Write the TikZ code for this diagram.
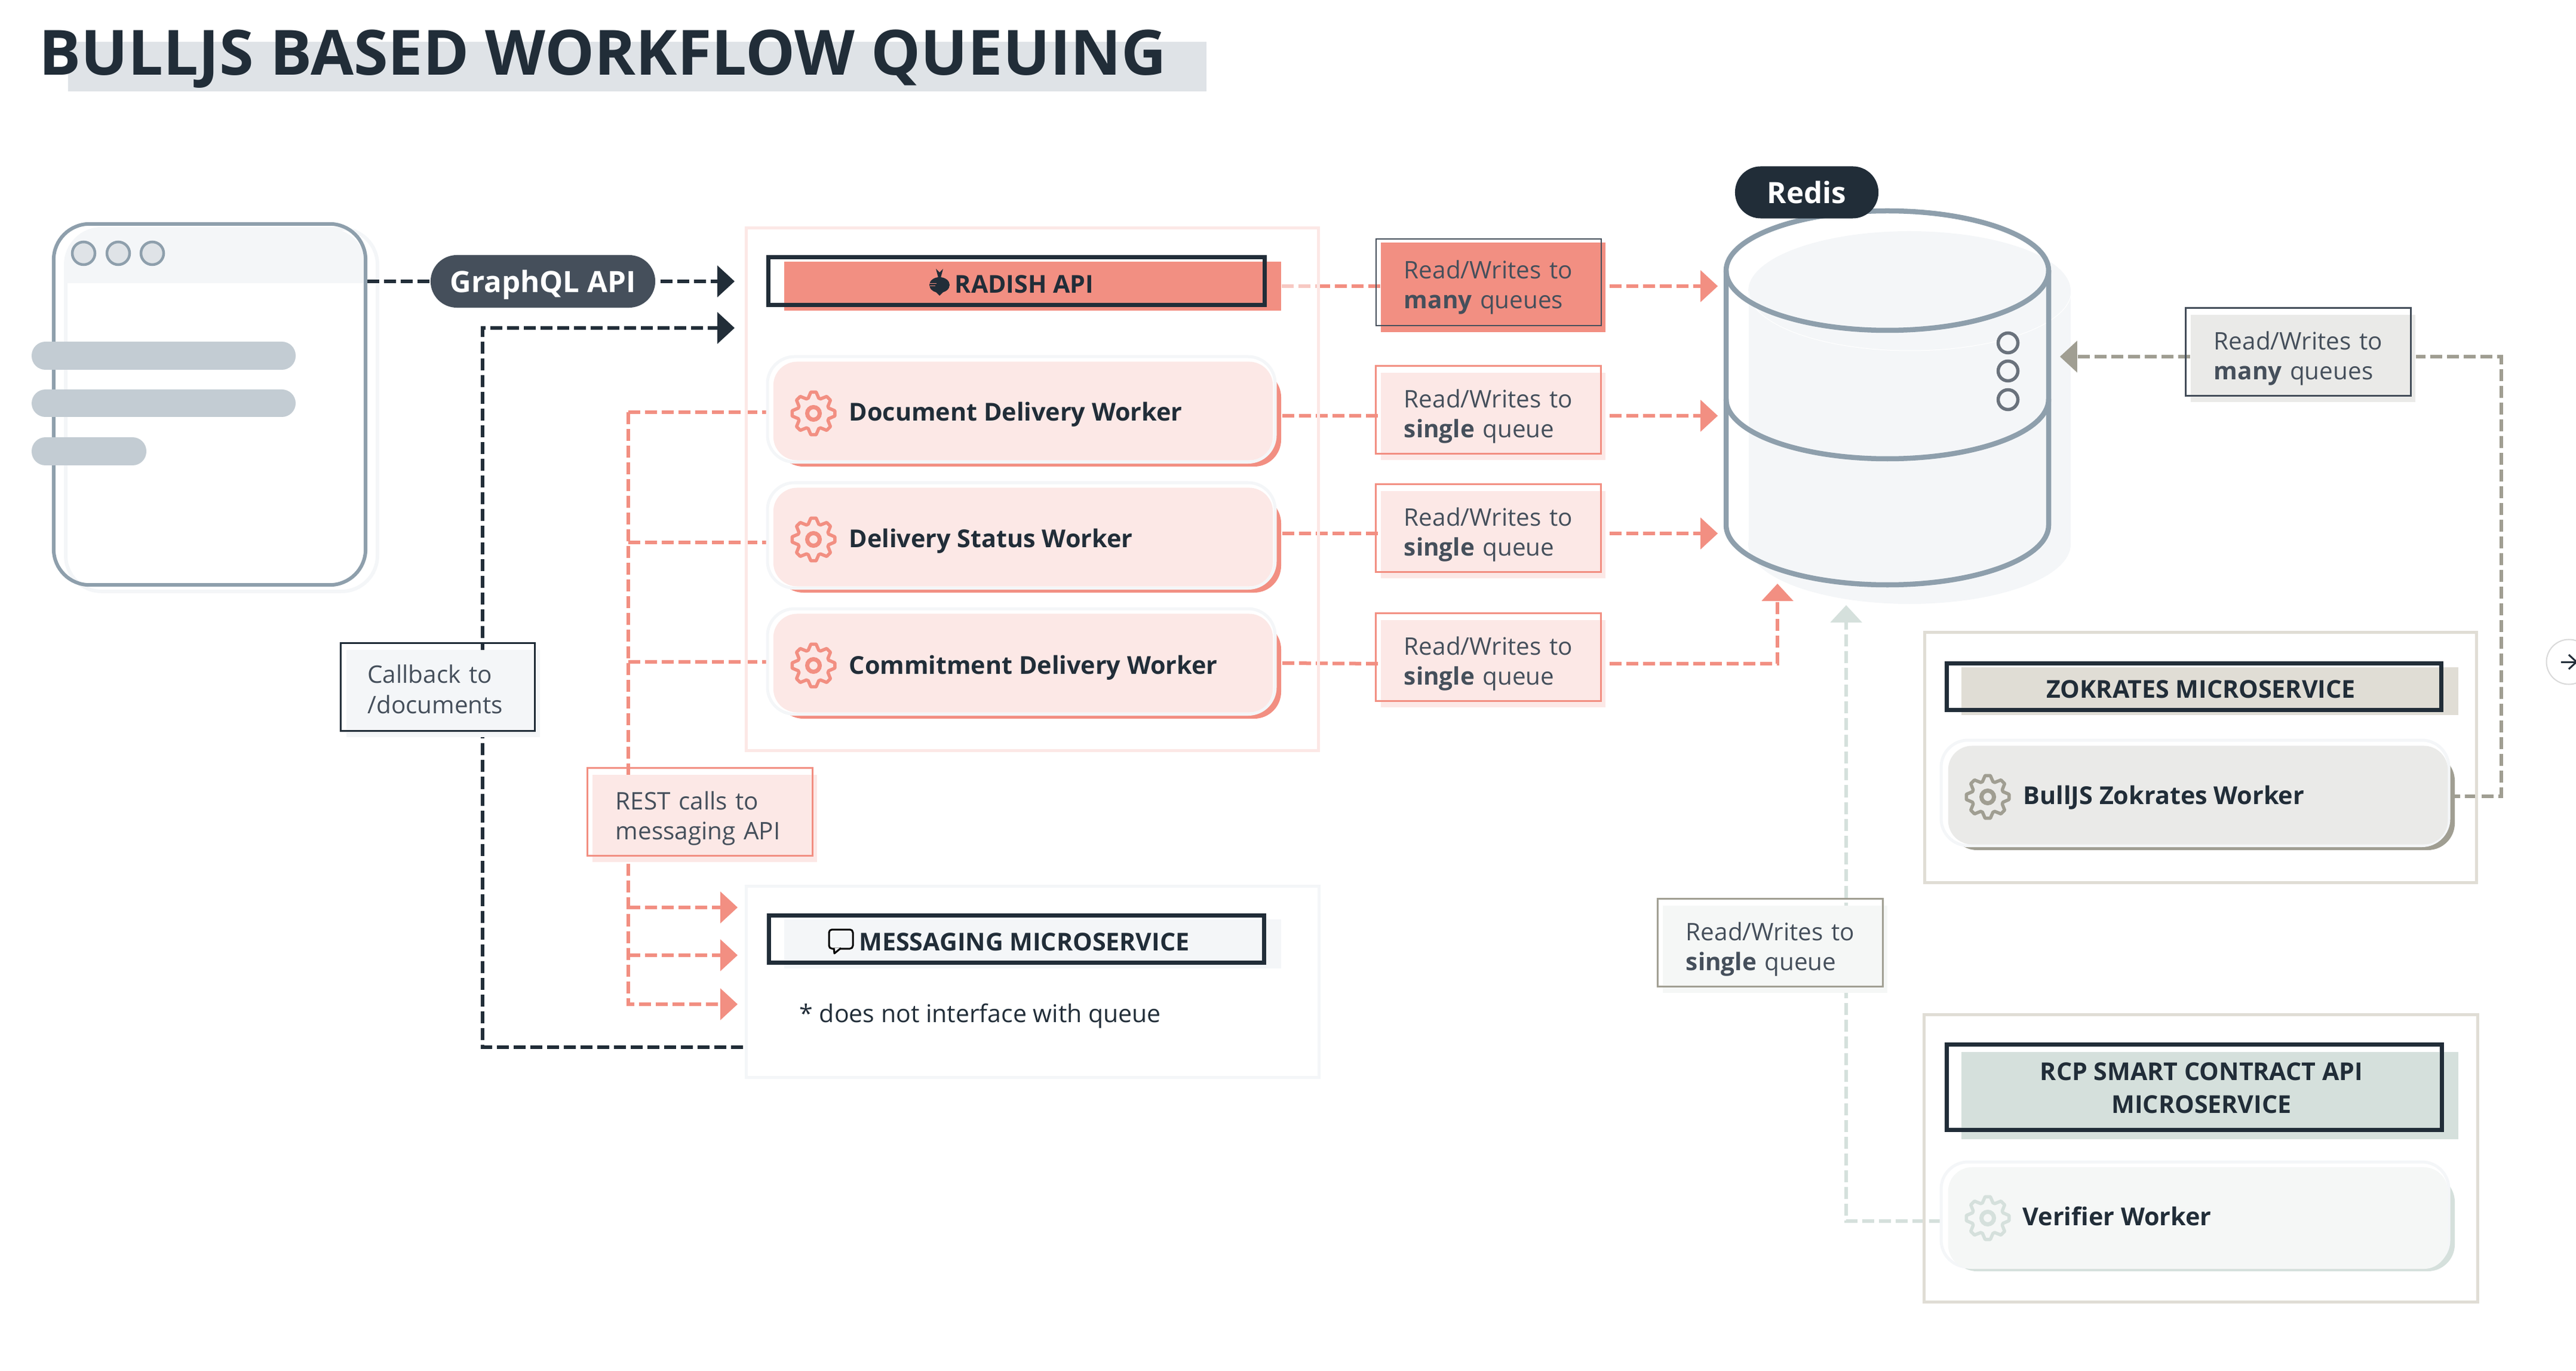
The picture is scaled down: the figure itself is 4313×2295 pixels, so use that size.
\documentclass[tikz,border=0pt]{standalone}
\usepackage{fontspec}
\setmainfont{Open Sans}
\usetikzlibrary{arrows.meta}

\definecolor{ink}{HTML}{212D38}
\definecolor{slate}{HTML}{454F5B}
\definecolor{steel}{HTML}{8E9FAC}
\definecolor{mist}{HTML}{C3CCD3}
\definecolor{fog}{HTML}{F4F6F8}
\definecolor{band}{HTML}{DFE3E7}
\definecolor{salmon}{HTML}{F28F82}
\definecolor{blush}{HTML}{FCE8E6}
\definecolor{paleline}{HTML}{F7C9C3}
\definecolor{stone}{HTML}{A09E92}
\definecolor{sand}{HTML}{E0DDD5}
\definecolor{ash}{HTML}{EAEAE8}
\definecolor{sage}{HTML}{D5E0DC}
\definecolor{frost}{HTML}{F5F7F6}

\pgfdeclarelayer{lines}
\pgfsetlayers{lines,main}

\tikzset{
  flow/.style={line width=0.6mm,dash pattern=on 2mm off 0.8mm},
  tipped/.style={-{Triangle[length=2.9mm,width=5.2mm]}},
  groupbox/.style={line width=0.5mm},
  titleline/.style={draw=ink,line width=0.7mm},
  labelbox/.style={rectangle,inner sep=0,minimum width=3.76cm,minimum height=1.45cm,
    text width=2.98cm,align=left,text=slate,font=\fontsize{11.5}{14.3}\selectfont},
  labelline/.style={line width=0.28mm},
  headtext/.style={anchor=base,inner sep=0,text=ink,font=\fontsize{11.7}{15.6}\selectfont\bfseries},
  workertext/.style={anchor=base west,inner sep=0,text=ink,font=\fontsize{11.75}{14}\selectfont\bfseries},
  workerback/.style={rounded corners=4.5mm},
  workerring/.style={rounded corners=4.5mm,draw=fog,fill=white,line width=0.5mm},
  workerbody/.style={rectangle,rounded corners=4mm,inner sep=0},
  hole/.style={circle,inner sep=0,minimum size=0.33cm,line width=0.55mm,draw=slate!80,fill=fog},
  winbtn/.style={circle,draw=steel,fill=band,line width=0.45mm,minimum size=0.38cm,inner sep=0},
}

\newcommand{\gearicon}[3]{
  \begin{scope}[shift={(#1,#2)}]
    \draw[#3,line width=0.55mm,line join=round] (-7:36)
      \foreach \a in {0,45,...,315} { -- (\a-7:36) -- (\a+7:36) -- (\a+19:27) -- (\a+26:27) } -- cycle;
    \draw[#3,line width=0.7mm] (0,0) circle (10.5);
  \end{scope}
}

\begin{document}
\begin{tikzpicture}[x=0.01cm,y=-0.01cm]
  \useasboundingbox (0,0) rectangle (4313,2295);

  \fill[band] (114,70) rectangle (2020,153);
  \node (HEAD) at (65,126) [anchor=base west,inner sep=0,text=ink,font=\fontsize{29.7}{32}\selectfont\bfseries] {BULLJS BASED WORKFLOW QUEUING};

%% the page that calls the api
  \node (WIN) at (351,677) [rectangle,draw=steel,line width=0.6mm,rounded corners=6mm,minimum width=5.22cm,minimum height=6.04cm] {};
  \node (BTN1) at (140,424) [winbtn] {};
  \node (BTN2) at (198,424) [winbtn] {};
  \node (BTN3) at (255,424) [winbtn] {};
  \fill[mist,rounded corners=2.3mm] (53,572) rectangle (495,619);
  \fill[mist,rounded corners=2.3mm] (53,652) rectangle (495,698);
  \fill[mist,rounded corners=2.3mm] (53,732) rectangle (245,779);

  \node (GQL) at (909,471) [rectangle,rounded corners=4.4mm,fill=slate,text=white,text depth=0pt,minimum width=3.76cm,minimum height=0.88cm,inner sep=0,font=\fontsize{14}{16}\selectfont\bfseries] {GraphQL API};

%% radish box
  \draw[blush,groupbox] (1249,382) rectangle (2207,1256);
  \coordinate (RDE) at (2207,479);
  \node (RDB) at (1729,479) [rectangle,fill=salmon,minimum width=8.32cm,minimum height=0.82cm,inner sep=0] {};
  \draw[titleline] (1286,431) rectangle (2117,511);
  \fill[ink] (1573,477) ellipse [x radius=17,y radius=13];
  \fill[ink] (1564,486) -- (1573,495) -- (1582,486) -- cycle;
  \fill[ink] (1571,465) -- (1567,450) -- (1573,456) -- (1579,450) -- (1575,465) -- cycle;
  \draw[salmon,line width=0.1mm] (1557,475) -- (1568,475) (1557,479) -- (1566,479);
  \node (RDT) at (1715,491) [headtext] {RADISH API};

  \fill[salmon,workerback] (1300,620) rectangle (2145,781);
  \draw[workerring] (1285,597) rectangle (2135,773.5);
  \node (DDW) at (1713,688) [workerbody,fill=blush,minimum width=8.36cm,minimum height=1.65cm] {};
  \gearicon{1362}{692}{salmon}
  \node (DDT) at (1421,705) [workertext] {Document Delivery Worker};

  \fill[salmon,workerback] (1300,831) rectangle (2145,992);
  \draw[workerring] (1285,808) rectangle (2135,984.5);
  \node (DSW) at (1713,899) [workerbody,fill=blush,minimum width=8.36cm,minimum height=1.65cm] {};
  \gearicon{1362}{903}{salmon}
  \node (DST) at (1421,916) [workertext] {Delivery Status Worker};

  \fill[salmon,workerback] (1300,1042) rectangle (2145,1203);
  \draw[workerring] (1285,1019) rectangle (2135,1195.5);
  \node (CDW) at (1713,1110) [workerbody,fill=blush,minimum width=8.36cm,minimum height=1.65cm] {};
  \gearicon{1362}{1114}{salmon}
  \node (CDT) at (1421,1128) [workertext] {Commitment Delivery Worker};

%% messaging box
  \draw[fog,groupbox] (1249,1483) rectangle (2208,1803);
  \node (MSB) at (1729,1580) [rectangle,fill=fog,minimum width=8.32cm,minimum height=0.82cm,inner sep=0] {};
  \draw[titleline] (1287,1532) rectangle (2116,1611);
  \draw[black,line width=0.3mm,line join=round,rounded corners=0.5mm] (1388,1556) rectangle (1428,1588);
  \draw[black,fill=fog,line width=0.3mm,line join=round] (1396,1587) -- (1397,1596) -- (1408,1587);
  \node (MST) at (1715,1591) [headtext] {MESSAGING MICROSERVICE};
  \node (MSN) at (1338,1711) [anchor=base west,inner sep=0,text=ink,font=\fontsize{11.66}{14}\selectfont] {* does not interface with queue};

%% redis
  \node (CYL) at (3160,666) [rectangle,minimum width=5.4cm,minimum height=6.26cm,inner sep=0] {};
  \draw[steel,line width=0.85mm] (3160,453) ellipse [x radius=270,y radius=100];
  \draw[steel,line width=0.85mm] (2890,453) -- (2890,879) arc [start angle=180,end angle=0,x radius=270,y radius=100] -- (3430,453);
  \draw[steel,line width=0.85mm] (2890,668) arc [start angle=180,end angle=0,x radius=270,y radius=100];
  \node (HOL1) at (3362,574) [hole] {};
  \node (HOL2) at (3362,621) [hole] {};
  \node (HOL3) at (3362,669) [hole] {};
  \node (RDS) at (3025,322) [rectangle,rounded corners=4.3mm,fill=ink,text=white,minimum width=2.4cm,minimum height=0.87cm,inner sep=0,font=\fontsize{14}{16}\selectfont\bfseries] {Redis};

%% labels, each with its line a little up and left
  \node (RW1) at (2500,481) [labelbox,fill=salmon,minimum height=1.49cm] {Read/Writes to\\\textbf{many} queues};
  \draw[labelline,draw=slate] (2304,400) rectangle (2681,545);
  \node (RW2) at (2500,697) [labelbox,fill=blush] {Read/Writes to\\\textbf{single} queue};
  \draw[labelline,draw=salmon] ([shift={(-8,-11)}]RW2.north west) rectangle ([shift={(-8,-11)}]RW2.south east);
  \node (RW3) at (2500,895) [labelbox,fill=blush] {Read/Writes to\\\textbf{single} queue};
  \draw[labelline,draw=salmon] ([shift={(-8,-11)}]RW3.north west) rectangle ([shift={(-8,-11)}]RW3.south east);
  \node (RW4) at (2500,1111) [labelbox,fill=blush] {Read/Writes to\\\textbf{single} queue};
  \draw[labelline,draw=salmon] ([shift={(-8,-11)}]RW4.north west) rectangle ([shift={(-8,-11)}]RW4.south east);
  \node (RW5) at (3856,600) [labelbox,fill=ash] {Read/Writes to\\\textbf{many} queues};
  \draw[labelline,draw=slate] ([shift={(-8,-11)}]RW5.north west) rectangle ([shift={(-8,-11)}]RW5.south east);
  \node (RW6) at (2972,1589) [labelbox,fill=frost] {Read/Writes to\\\textbf{single} queue};
  \draw[labelline,draw=stone] ([shift={(-8,-11)}]RW6.north west) rectangle ([shift={(-8,-11)}]RW6.south east);
  \node (CBK) at (742,1161) [labelbox,fill=fog,minimum width=3.23cm,text width=2.53cm] {Callback to\\/documents\rule[-1.5mm]{0pt}{0pt}};
  \draw[labelline,draw=ink] ([shift={(-9,-11)}]CBK.north west) rectangle ([shift={(-9,-11)}]CBK.south east);
  \node (RST) at (1180,1370) [labelbox,fill=blush] {REST calls to\\messaging API};
  \draw[labelline,draw=salmon] ([shift={(-8,-11)}]RST.north west) rectangle ([shift={(-8,-11)}]RST.south east);

%% zokrates box
  \draw[sand,groupbox] (3222,1058) rectangle (4146,1477);
  \node (ZKB) at (3700,1157) [rectangle,fill=sand,minimum width=8.31cm,minimum height=0.8cm,inner sep=0] {};
  \draw[titleline] (3259,1110) rectangle (4087,1188);
  \node (ZKT) at (3685,1168) [headtext] {ZOKRATES MICROSERVICE};
  \fill[stone,workerback] (3265,1262) rectangle (4110,1423);
  \draw[workerring] (3250,1239) rectangle (4100,1415.5);
  \node (BZW) at (3680,1331) [workerbody,fill=ash,minimum width=8.36cm,minimum height=1.65cm] {};
  \gearicon{3328}{1334}{stone}
  \node (BZT) at (3387,1346) [workertext] {BullJS Zokrates Worker};

%% contract api box
  \draw[sand,groupbox] (3221,1698) rectangle (4148,2179);
  \node (RCB) at (3700,1834) [rectangle,fill=sage,minimum width=8.32cm,minimum height=1.46cm,inner sep=0] {};
  \draw[titleline] (3259,1748) rectangle (4088,1891);
  \node (RCT) at (3686,1821) [headtext,anchor=center,align=center] {RCP SMART CONTRACT API\\MICROSERVICE};
  \fill[sage,workerback] (3265,1967) rectangle (4110,2128);
  \draw[workerring] (3250,1945) rectangle (4100,2121);
  \node (VFW) at (3680,2039) [workerbody,fill=frost,minimum width=8.36cm,minimum height=1.7cm] {};
  \gearicon{3328}{2039}{sage}
  \node (VFT) at (3386,2051) [workertext] {Verifier Worker};

  \node (NXT) at (4301,1108) [circle,draw=black!15,line width=0.2mm,minimum size=0.75cm,inner sep=0] {};
  \draw[ink,line width=0.3mm,-{Straight Barb[length=1.3mm,width=2.4mm]}] (4288,1108) -- (4316,1108);

%% connectors go underneath everything
  \coordinate (SPNT) at (1052,690);
  \coordinate (SPNB) at (1235,1681);
  \coordinate (DSIN) at (1283,908);
  \coordinate (CDIN) at (1283,1108);
  \coordinate (MSG1) at (1235,1519);
  \coordinate (MSG2) at (1235,1599);
  \coordinate (CBTP) at (1230,549);
  \coordinate (CBCR) at (808,1753);
  \coordinate (MSGO) at (1244,1753);
  \coordinate (RDTP) at (2976,977);
  \coordinate (VFTP) at (3091,1013);
  \coordinate (VFIN) at (3250,2044);
  \coordinate (BZRG) at (4188,1333);
  \begin{pgfonlayer}{lines}
    \draw[fog,fill=white,line width=0.6mm,rounded corners=6mm] (110,383) rectangle (632,990);
    \fill[fog] (110,474) [rounded corners=6mm] |- (612,383) [sharp corners] -- (612,474) -- cycle;
    \fill[fog] (2928,487) rectangle (3467,911);
    \fill[fog] (3197,487) ellipse [x radius=270,y radius=100];
    \fill[fog] (3197,911) ellipse [x radius=270,y radius=100];
    \draw[white,line width=0.1mm] (2928,487) arc [start angle=180,end angle=0,x radius=270,y radius=100];

    \draw[ink,flow] (WIN.east |- GQL.west) -- (GQL.west);
    \draw[ink,flow,tipped,shorten <=0.8mm] (GQL.east) -- (1230,471);
    \draw[ink,flow,tipped] (MSGO) -- (CBCR) |- (CBTP);

    \draw[paleline,flow] (RDB.east) -- (RDE);
    \draw[salmon,flow] (RDE) -- (RW1.west |- RDE);
    \draw[salmon,flow,tipped,shorten <=0.6mm,shorten >=1.3mm] (RW1.east |- RDE) -- (CYL.west |- RDE);
    \draw[salmon,flow] (2147,696) -- (RW2.west |- 0,696);
    \draw[salmon,flow,tipped,shorten <=0.6mm,shorten >=1.3mm] (RW2.east |- 0,696) -- (CYL.west |- 0,696);
    \draw[salmon,flow] (2147,893) -- (RW3.west |- 0,893);
    \draw[salmon,flow,tipped,shorten <=0.6mm,shorten >=1.3mm] (RW3.east |- 0,893) -- (CYL.west |- 0,893);
    \draw[salmon,flow] (2147,1110) -- (RW4.west);
    \draw[salmon,flow,tipped,shorten <=0.6mm] (RW4.east) -| (RDTP);

    \draw[salmon,flow,tipped] (SPNT) |- (SPNB);
    \draw[salmon,flow] (SPNT) -- (DDW.west |- SPNT);
    \draw[salmon,flow] (SPNT |- DSIN) -- (DSIN);
    \draw[salmon,flow] (SPNT |- CDIN) -- (CDIN);
    \draw[salmon,flow,tipped] (SPNT |- MSG1) -- (MSG1);
    \draw[salmon,flow,tipped] (SPNT |- MSG2) -- (MSG2);

    \draw[stone,flow,tipped,shorten >=1.8mm] (RW5.west |- 0,597) -- (CYL.east |- 0,597);
    \draw[stone,flow] (BZW.east |- BZRG) -- (BZRG) |- (RW5.east |- 0,597);
    \draw[sage,flow,tipped] (VFIN) -| (VFTP);
  \end{pgfonlayer}
\end{tikzpicture}
\end{document}
